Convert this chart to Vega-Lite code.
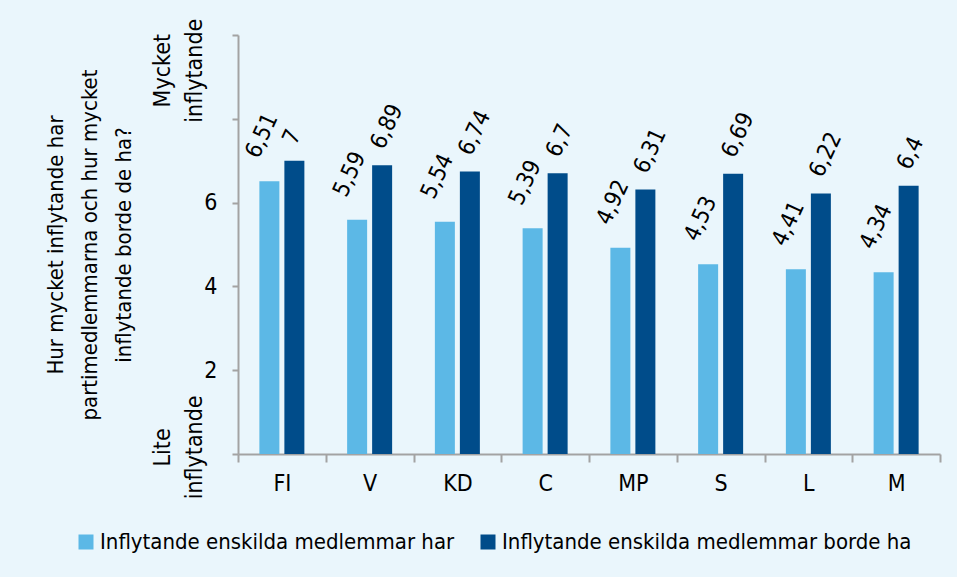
{
  "$schema": "https://vega.github.io/schema/vega-lite/v6.json",
  "width": 702,
  "height": 419,
  "autosize": {"type": "none"},
  "padding": {"left": 238, "top": 35, "right": 17, "bottom": 123},
  "background": "#eaf6fc",
  "config": {
    "locale": {"number": {"decimal": ",", "thousands": " ", "grouping": [3], "currency": ["", " kr"]}},
    "font": "'DejaVu Sans Condensed', 'Liberation Sans Narrow', 'Roboto Condensed', sans-serif",
    "view": {"stroke": null},
    "axis": {"labelFont": "'DejaVu Sans Condensed', 'Liberation Sans Narrow', 'Roboto Condensed', sans-serif", "titleFont": "'DejaVu Sans Condensed', 'Liberation Sans Narrow', 'Roboto Condensed', sans-serif", "labelColor": "#000000", "titleColor": "#000000", "grid": false},
    "legend": {"labelFont": "'DejaVu Sans Condensed', 'Liberation Sans Narrow', 'Roboto Condensed', sans-serif"},
    "text": {"font": "'DejaVu Sans Condensed', 'Liberation Sans Narrow', 'Roboto Condensed', sans-serif"}
  },
  "data": {
    "values": [
      {"party": "FI", "series": "Inflytande enskilda medlemmar har", "value": 6.51},
      {"party": "FI", "series": "Inflytande enskilda medlemmar borde ha", "value": 7},
      {"party": "V", "series": "Inflytande enskilda medlemmar har", "value": 5.59},
      {"party": "V", "series": "Inflytande enskilda medlemmar borde ha", "value": 6.89},
      {"party": "KD", "series": "Inflytande enskilda medlemmar har", "value": 5.54},
      {"party": "KD", "series": "Inflytande enskilda medlemmar borde ha", "value": 6.74},
      {"party": "C", "series": "Inflytande enskilda medlemmar har", "value": 5.39},
      {"party": "C", "series": "Inflytande enskilda medlemmar borde ha", "value": 6.7},
      {"party": "MP", "series": "Inflytande enskilda medlemmar har", "value": 4.92},
      {"party": "MP", "series": "Inflytande enskilda medlemmar borde ha", "value": 6.31},
      {"party": "S", "series": "Inflytande enskilda medlemmar har", "value": 4.53},
      {"party": "S", "series": "Inflytande enskilda medlemmar borde ha", "value": 6.69},
      {"party": "L", "series": "Inflytande enskilda medlemmar har", "value": 4.41},
      {"party": "L", "series": "Inflytande enskilda medlemmar borde ha", "value": 6.22},
      {"party": "M", "series": "Inflytande enskilda medlemmar har", "value": 4.34},
      {"party": "M", "series": "Inflytande enskilda medlemmar borde ha", "value": 6.4}
    ]
  },
  "encoding": {
    "x": {
      "field": "party", "type": "nominal",
      "sort": ["FI", "V", "KD", "C", "MP", "S", "L", "M"],
      "scale": {"paddingInner": 0, "paddingOuter": 0},
      "axis": {
        "title": null, "labelAngle": 0, "tickBand": "extent", "tickSize": 8, "tickWidth": 2, "tickColor": "#a3a3a3",
        "domainColor": "#a3a3a3", "domainWidth": 2, "labelPadding": 10, "labelFontSize": 23
      }
    },
    "xOffset": {
      "field": "series", "type": "nominal",
      "sort": ["Inflytande enskilda medlemmar har", "Inflytande enskilda medlemmar borde ha"],
      "scale": {"paddingInner": 0.2, "paddingOuter": 0.855}
    }
  },
  "layer": [
    {
      "mark": {"type": "bar"},
      "encoding": {
        "y": {
          "field": "value", "type": "quantitative",
          "scale": {"domain": [0, 10], "nice": false},
          "axis": {
            "orient": "left",
            "values": [0, 2, 4, 6, 8, 10],
            "labelExpr": "datum.value >= 2 && datum.value <= 6 ? datum.label : ''",
            "labelOverlap": false, "labelFlush": false,
            "tickSize": 6, "tickWidth": 2, "tickColor": "#a3a3a3",
            "domainColor": "#a3a3a3", "domainWidth": 2,
            "labelPadding": 15, "labelFontSize": 23,
            "title": ["Hur mycket inflytande har", "partimedlemmarna och hur mycket", "inflytande borde de ha?"],
            "titleFontSize": 22, "titleFontWeight": "normal", "titleAngle": -90,
            "titleX": -193, "titleY": 209.5, "titleAlign": "center", "titleBaseline": "top",
            "titleLineHeight": 34
          }
        },
        "color": {
          "field": "series", "type": "nominal",
          "scale": {"domain": ["Inflytande enskilda medlemmar har", "Inflytande enskilda medlemmar borde ha"], "range": ["#5cb8e6", "#004c8a"]},
          "legend": {
            "orient": "none", "legendX": -163, "legendY": 496, "direction": "horizontal", "title": null,
            "symbolType": "square", "symbolSize": 225, "symbolStrokeWidth": 0, "symbolOpacity": 1,
            "labelFontSize": 22, "labelColor": "#000000", "labelLimit": 0,
            "columnPadding": 22, "labelOffset": 3
          }
        }
      }
    },
    {
      "transform": [{"filter": "datum.series === 'Inflytande enskilda medlemmar har'"}],
      "mark": {"type": "text", "angle": -65, "align": "left", "baseline": "middle", "dx": 15, "dy": -26, "fontSize": 23, "color": "#000000"},
      "encoding": {
        "text": {"field": "value", "type": "quantitative", "format": "~g"},
        "y": {
          "field": "value", "type": "quantitative",
          "scale": {"domain": [0, 10], "nice": false},
          "axis": {
            "orient": "left",
            "values": [9.16, 0.17],
            "labelExpr": "datum.value > 5 ? ['Mycket', 'inflytande'] : ['Lite', 'inflytande']",
            "labelAngle": -90, "labelAlign": "center", "labelBaseline": "bottom",
            "labelOverlap": false, "labelFlush": false, "labelBound": false,
            "ticks": false, "tickSize": 0, "domain": false,
            "labelPadding": 64, "labelFontSize": 23, "labelLineHeight": 32,
            "title": null
          }
        }
      }
    },
    {
      "transform": [{"filter": "datum.series === 'Inflytande enskilda medlemmar borde ha'"}],
      "mark": {"type": "text", "angle": -65, "align": "left", "baseline": "middle", "dx": 14, "dy": -12, "fontSize": 23, "color": "#000000"},
      "encoding": {
        "text": {"field": "value", "type": "quantitative", "format": "~g"},
        "y": {"field": "value", "type": "quantitative", "scale": {"domain": [0, 10], "nice": false}, "axis": null}
      }
    }
  ],
  "resolve": {"axis": {"y": "independent"}}
}
